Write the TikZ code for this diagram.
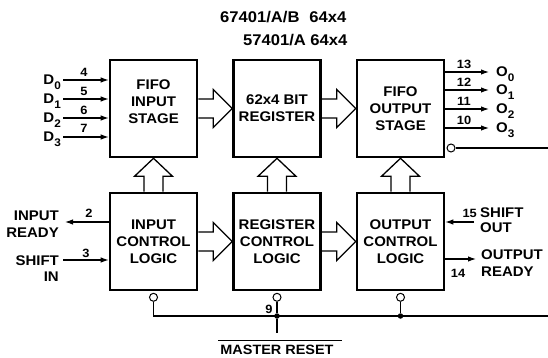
\documentclass[tikz,border=0pt]{standalone}
\usepackage{fontspec}
\setmainfont[FakeStretch=1.07]{Liberation Sans}
\usetikzlibrary{arrows.meta,calc}
\tikzset{
 blk/.style={draw, line width=2.6pt, minimum width=87pt, minimum height=97pt, align=center,
   font=\fontsize{14}{17}\selectfont\bfseries, inner sep=0pt},
 sig/.style={line width=1.1pt, -{Latex[length=8pt,width=5.5pt]}},
 wire/.style={line width=1.1pt},
 hol/.style={line width=1.3pt, line join=miter},
 pin/.style={font=\fontsize{12}{12}\selectfont\bfseries, inner sep=0pt},
 lab/.style={font=\fontsize{14}{16}\selectfont\bfseries, inner sep=0pt},
 ttl/.style={font=\fontsize{15.5}{16}\selectfont\bfseries, inner sep=0pt},
 bub/.style={draw, circle, line width=1pt, minimum size=8pt, inner sep=0pt, fill=white},
 dotn/.style={circle, fill, minimum size=5.5pt, inner sep=0pt},
}
\newcommand\sbs[1]{\raisebox{-4.5pt}{\fontsize{11}{11}\selectfont #1}}
\newcommand\harrow[2]{\draw[hol] ([yshift=9.5pt]#1.east) -- ([xshift=-19pt,yshift=9.5pt]#2.west)
  -- ([xshift=-19pt,yshift=19pt]#2.west) -- (#2.west) -- ([xshift=-19pt,yshift=-19pt]#2.west)
  -- ([xshift=-19pt,yshift=-9.5pt]#2.west) -- ([yshift=-9.5pt]#1.east);}
\newcommand\varrow[2]{\draw[hol] ([xshift=-9.5pt]#1.north) -- ([xshift=-9.5pt,yshift=-18pt]#2.south)
  -- ([xshift=-19pt,yshift=-18pt]#2.south) -- (#2.south) -- ([xshift=19pt,yshift=-18pt]#2.south)
  -- ([xshift=9.5pt,yshift=-18pt]#2.south) -- ([xshift=9.5pt]#1.north);}
\begin{document}
\begin{tikzpicture}[x=1pt,y=-1pt]
\useasboundingbox (0,0) rectangle (548,358);
% title
\node[ttl, anchor=base west] (t1) at (220,23) {67401/A/B\hspace{10pt}64x4};
\node[ttl, anchor=base west] (t2) at (243,46) {57401/A 64x4};
% boxes
\node[blk] (fi) at (153.5,108.5) {FIFO\\INPUT\\STAGE\\[-3pt]};
\node[blk] (rg) at (277,108.5) {62x4 BIT\\REGISTER};
\node[blk] (fo) at (400.5,108.5) {FIFO\\OUTPUT\\STAGE};
\node[blk] (ic) at (153.5,241.5) {INPUT\\CONTROL\\LOGIC};
\node[blk] (rc) at (277,241.5) {REGISTER\\CONTROL\\LOGIC};
\node[blk] (oc) at (400.5,241.5) {OUTPUT\\CONTROL\\LOGIC};
% hollow arrows
\harrow{fi}{rg}
\harrow{rg}{fo}
\harrow{ic}{rc}
\harrow{rc}{oc}
\varrow{ic}{fi}
\varrow{rc}{rg}
\varrow{oc}{fo}
% data inputs
\coordinate (d0) at (63,80);
\coordinate (d1) at (63,99);
\coordinate (d2) at (63,118);
\coordinate (d3) at (63,137);
\draw[sig] (d0) -- (d0 -| fi.west);
\draw[sig] (d1) -- (d1 -| fi.west);
\draw[sig] (d2) -- (d2 -| fi.west);
\draw[sig] (d3) -- (d3 -| fi.west);
\node[lab, anchor=base east] (ld0) at (61,85) {D\sbs{0}};
\node[lab, anchor=base east] (ld1) at (61,104) {D\sbs{1}};
\node[lab, anchor=base east] (ld2) at (61,123) {D\sbs{2}};
\node[lab, anchor=base east] (ld3) at (61,142) {D\sbs{3}};
\node[pin, anchor=base] (p4) at (84,77) {4};
\node[pin, anchor=base] (p5) at (84,96) {5};
\node[pin, anchor=base] (p6) at (84,115) {6};
\node[pin, anchor=base] (p7) at (84,133) {7};
% data outputs
\coordinate (o0) at (489,72);
\coordinate (o1) at (489,90);
\coordinate (o2) at (489,109);
\coordinate (o3) at (489,128);
\draw[sig] (o0 -| fo.east) -- (o0);
\draw[sig] (o1 -| fo.east) -- (o1);
\draw[sig] (o2 -| fo.east) -- (o2);
\draw[sig] (o3 -| fo.east) -- (o3);
\node[lab, anchor=base west] (lo0) at (496,77) {O\sbs{0}};
\node[lab, anchor=base west] (lo1) at (496,95) {O\sbs{1}};
\node[lab, anchor=base west] (lo2) at (496,114) {O\sbs{2}};
\node[lab, anchor=base west] (lo3) at (496,133) {O\sbs{3}};
\node[pin, anchor=base] (p13) at (464,68.5) {13};
\node[pin, anchor=base] (p12) at (464,87) {12};
\node[pin, anchor=base] (p11) at (464,105.5) {11};
\node[pin, anchor=base] (p10) at (464,124.5) {10};
% output enable bubble
\node[bub] (bo) at (451,148) {};
\coordinate (re) at (548,148);
\draw[wire] (bo.east) -- (re);
% input control signals
\coordinate (ir) at (65,222);
\draw[sig] (ir -| ic.west) -- (ir);
\node[lab, anchor=base east] (lir1) at (59,220) {INPUT};
\node[lab, anchor=base east] (lir2) at (59,237) {READY};
\node[pin, anchor=base] (p2) at (89,217) {2};
\coordinate (si) at (63,260);
\draw[sig] (si) -- (si -| ic.west);
\node[lab, anchor=base east] (lsi1) at (59,265) {SHIFT};
\node[lab, anchor=base east] (lsi2) at (59,281) {IN};
\node[pin, anchor=base] (p3) at (86,257) {3};
% output control signals
\coordinate (so) at (474,222);
\draw[sig] (so) -- (so -| oc.east);
\node[pin, anchor=base east] (p15) at (477,217) {15};
\node[lab, anchor=base west] (lso1) at (480,217) {SHIFT};
\node[lab, anchor=base west] (lso2) at (480,232) {OUT};
\coordinate (orr) at (476,259);
\draw[sig] (orr -| oc.east) -- (orr);
\node[lab, anchor=base west] (lor1) at (481,259) {OUTPUT};
\node[lab, anchor=base west] (lor2) at (481,276) {READY};
\node[pin, anchor=base] (p14) at (458,277) {14};
% master reset
\node[bub, anchor=north] (bi) at ([yshift=-1.5pt]ic.south) {};
\node[bub, anchor=north] (br) at ([yshift=-1.5pt]rc.south) {};
\node[bub, anchor=north] (bc) at ([yshift=-1.5pt]oc.south) {};
\coordinate (busr) at (548,316);
\draw[wire] (bi.south) |- (busr);
\node[dotn] (j1) at (rc.south |- busr) {};
\node[dotn] (j2) at (oc.south |- busr) {};
\draw[wire] (br.south) -- (j1);
\draw[wire] (bc.south) -- (j2);
\coordinate (mrt) at (277,333);
\draw[wire] (j1) -- (mrt);
\node[pin, anchor=base] (p9) at (269,313) {9};
\node[lab, font=\fontsize{13.5}{14}\selectfont\bfseries, anchor=base] (mr) at (277,354.5) {MASTER RESET};
\draw[wire] ([xshift=-2pt,yshift=4pt]mr.north west) -- ([xshift=8pt,yshift=4pt]mr.north east);
\end{tikzpicture}
\end{document}
